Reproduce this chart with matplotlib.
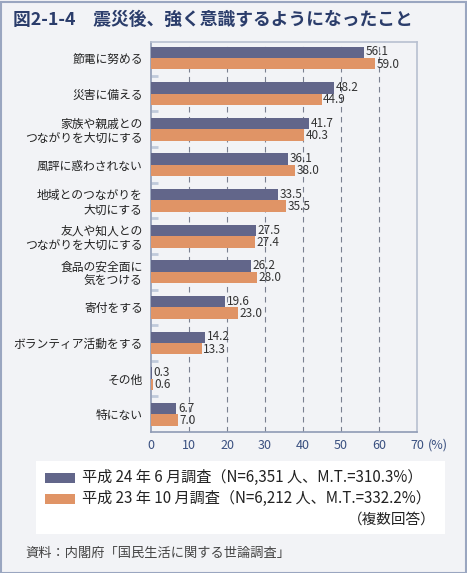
import matplotlib
matplotlib.use("Agg")
import matplotlib.pyplot as plt
from matplotlib.patches import Rectangle
import matplotlib.transforms as mtransforms
import numpy as np

plt.rcParams['font.family'] = ['Noto Sans CJK JP', 'DejaVu Sans']

categories = ["節電に努める", "災害に備える", "家族や親戚との\nつながりを大切にする", "風評に惑わされない",
              "地域とのつながりを\n大切にする", "友人や知人との\nつながりを大切にする", "食品の安全面に\n気をつける",
              "寄付をする", "ボランティア活動をする", "その他", "特にない"]
h24 = [56.1, 48.2, 41.7, 36.1, 33.5, 27.5, 26.2, 19.6, 14.2, 0.3, 6.7]
h23 = [59.0, 44.9, 40.3, 38.0, 35.5, 27.4, 28.0, 23.0, 13.3, 0.6, 7.0]
xticks = [0, 10, 20, 30, 40, 50, 60, 70]
legend_labels = ["平成 24 年 6 月調査（N=6,351 人、M.T.=310.3%）", "平成 23 年 10 月調査（N=6,212 人、M.T.=332.2%）"]

BG = "#f2f3f6"
BLUE = "#62668a"
ORANGE = "#e09466"
NAVY = "#2b3d6b"
W, H = 467, 573

fig = plt.figure(figsize=(W / 100, H / 100), dpi=100, facecolor=BG)
ax = fig.add_axes([151 / W, 1 - 431.7 / H, (417 - 151) / W, (431.7 - 42.3) / H])
ax.set_facecolor(BG)

y = np.arange(len(categories))
bh = 0.32
ax.barh(y - 0.16, h24, height=bh, color=BLUE, zorder=3)
ax.barh(y + 0.16, h23, height=bh, color=ORANGE, zorder=3)

for i, (a, b) in enumerate(zip(h24, h23)):
    ax.text(a + 0.4, i - 0.17, f"{a:.1f}", va="center", ha="left", fontsize=8.5, color="#333333", zorder=4)
    ax.text(b + 0.4, i + 0.17, f"{b:.1f}", va="center", ha="left", fontsize=8.5, color="#333333", zorder=4)

ax.set_xlim(0, 70)
ax.set_ylim(10.49, -0.44)
ax.set_xticks(xticks)
ax.set_xticklabels([str(t) for t in xticks], fontsize=9, color="#3a5080")
ax.tick_params(axis="x", length=0, pad=5)
ax.set_yticks(y)
ax.set_yticklabels(categories, fontsize=8.5, color="#222222", linespacing=1.15)
ax.tick_params(axis="y", length=0, pad=6)
ax.set_yticks(np.arange(0.5, len(categories) - 1, 1), minor=True)
ax.tick_params(axis="y", which="minor", direction="in", length=5, width=2, color="#c0cadb")

for t in xticks[1:-1]:
    ax.axvline(t, color="#7a8090", lw=0.8, ls=(0, (5, 4)), zorder=1)

for s in ["left", "bottom"]:
    ax.spines[s].set_color("#8f9bb5")
    ax.spines[s].set_linewidth(1.2)
for s in ["top", "right"]:
    ax.spines[s].set_color("#b8c0d0")
    ax.spines[s].set_linewidth(1.2)

trans = mtransforms.blended_transform_factory(ax.transData, ax.transAxes)
ax.text(72.8, 0, "(%)", fontsize=9, color="#3a5080", va="top", ha="left",
        transform=trans + mtransforms.ScaledTranslation(0, -5 / 72, fig.dpi_scale_trans))

# Title
fig.text(13 / W, 1 - 20 / H, "図2-1-4　震災後、強く意識するようになったこと", fontsize=12.8,
         fontweight="bold", color=NAVY, va="center", ha="left")

# Legend box
fig.patches.append(Rectangle((36 / W, 1 - 534 / H), (445 - 36) / W, (534 - 461) / H,
                             transform=fig.transFigure, facecolor="white", edgecolor="none"))
for k, (lab, col) in enumerate(zip(legend_labels, [BLUE, ORANGE])):
    yc = [477.5, 498.5][k]
    fig.patches.append(Rectangle((45 / W, 1 - (yc + 5) / H), 30 / W, 10 / H,
                                 transform=fig.transFigure, facecolor=col, edgecolor="none"))
    fig.text(82 / W, 1 - yc / H, lab, fontsize=10.9, color="#222222", va="center", ha="left")
fig.text(436 / W, 1 - 520 / H, "（複数回答）", fontsize=10.5, color="#222222", va="center", ha="right")

fig.text(25 / W, 1 - 553 / H, "資料：内閣府「国民生活に関する世論調査」", fontsize=9.5, color="#444444",
         va="center", ha="left")

fig.patches.append(Rectangle((0.5 / W, 0.5 / H), (W - 2) / W, (H - 2) / H, transform=fig.transFigure,
                             facecolor="none", edgecolor="#9aa6c0", lw=1.5))

fig.savefig("out.png", dpi=100, facecolor=BG)
